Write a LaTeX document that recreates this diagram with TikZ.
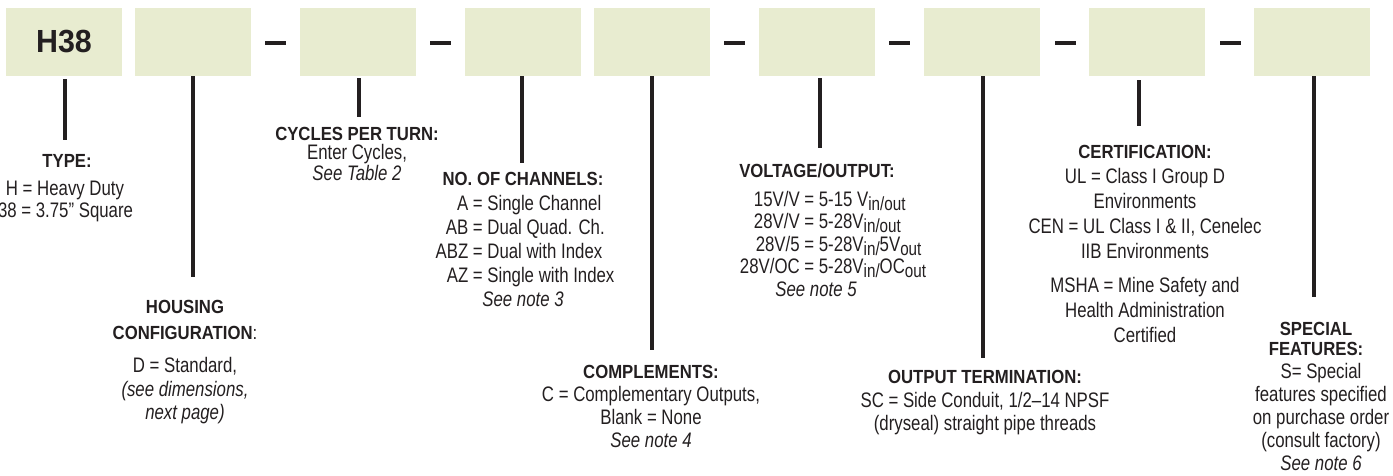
\documentclass[tikz,border=0pt]{standalone}
\usepackage{fontspec}
\setmainfont{Liberation Sans}[FakeStretch=0.8]
\newfontfamily\headfont{Liberation Sans}[FakeStretch=0.88]
\newfontfamily\codefont{Liberation Sans}[FakeStretch=0.95]
\definecolor{boxfill}{RGB}{232,236,208}
\definecolor{ink}{RGB}{35,31,32}
\newcommand{\lowsub}[1]{\raisebox{-2pt}{\fontsize{9.5}{9.5}\selectfont #1}}
\begin{document}
\begin{tikzpicture}[x=0.5pt,y=-0.5pt,
  codebox/.style={fill=boxfill,minimum width=58pt,minimum height=34pt,inner sep=0pt},
  dashbar/.style={fill=ink,minimum width=10.5pt,minimum height=1.8pt,inner sep=0pt},
  leader/.style={draw=ink,line width=1.6pt},
  head/.style={font=\headfont\bfseries\fontsize{9.5}{#1}\selectfont,text=ink,inner sep=0pt,anchor=north,align=center},
  head/.default=11pt,
  body/.style={font=\fontsize{10.5}{#1}\selectfont,text=ink,inner sep=0pt,anchor=north,align=center},
  body/.default=11.5pt,
  note/.style={font=\fontsize{10.5}{11.5}\selectfont\itshape,text=ink,inner sep=0pt,anchor=north}]
\useasboundingbox (0,0) rectangle (1393,476);
\node[codebox] (b1) at (64,42) {\codefont\bfseries\fontsize{16}{16}\selectfont\raisebox{-1.5pt}{\textcolor{ink}{H38}}};
\node[codebox] (b2) at (193,42) {};
\node[codebox] (b3) at (358,42) {};
\node[codebox] (b4) at (523,42) {};
\node[codebox] (b5) at (652,42) {};
\node[codebox] (b6) at (817,42) {};
\node[codebox] (b7) at (982,42) {};
\node[codebox] (b8) at (1147,42) {};
\node[codebox] (b9) at (1312,42) {};
\node[dashbar] (d1) at (275.5,43) {};
\node[dashbar] (d2) at (440.5,43) {};
\node[dashbar] (d3) at (734.5,43) {};
\node[dashbar] (d4) at (899.5,43) {};
\node[dashbar] (d5) at (1065,43) {};
\node[dashbar] (d6) at (1230,43) {};
\coordinate (e1) at (65,140);
\coordinate (e2) at (193,277);
\coordinate (e3) at (359,117);
\coordinate (e4) at (522,163);
\coordinate (e5) at (652,350);
\coordinate (e6) at (820,148);
\coordinate (e7) at (983,358);
\coordinate (e8) at (1139,126);
\coordinate (e9) at (1314,297);
\draw[leader,shorten <=1.5pt] (b1.south -| e1) -- (e1);
\draw[leader] (b2.south -| e2) -- (e2);
\draw[leader,shorten <=1pt] (b3.south -| e3) -- (e3);
\draw[leader] (b4.south -| e4) -- (e4);
\draw[leader] (b5.south -| e5) -- (e5);
\draw[leader,shorten <=1pt] (b6.south -| e6) -- (e6);
\draw[leader] (b7.south -| e7) -- (e7);
\draw[leader,shorten <=2pt] (b8.south -| e8) -- (e8);
\draw[leader] (b9.south -| e9) -- (e9);
\node[head] (typeh) at (67,154) {TYPE:};
\node[body=11pt] (typeb) at (65,181) {H = Heavy Duty\\\hspace*{-5.5pt}H38 = 3.75" Square};
\node[head=13pt] (housh) at (185,300) {HOUSING\\CONFIGURATION\textmd{:}};
\node[body=11.75pt] (housb) at (185,357) {D = Standard,\\\textit{(see dimensions,}\\\textit{next page)}};
\node[head] (cych) at (357,127) {CYCLES PER TURN:};
\node[body=10.5pt] (cycb) at (357,143.5) {Enter Cycles,\\\textit{See Table 2}};
\node[head] (chanh) at (523,172) {NO. OF CHANNELS:};
\node[body=12pt] (chanb) at (525,193) {\begin{tabular}{@{}r@{ = }l@{}}A & Single Channel\\AB & Dual Quad. Ch.\\ABZ & Dual with Index\\AZ & Single with Index\end{tabular}};
\node[note] (chann) at (523,291) {See note 3};
\node[head] (comph) at (651,365) {COMPLEMENTS:};
\node[body] (compb) at (651,386) {C = Complementary Outputs,\\Blank = None\\\textit{See note 4}};
\node[head] (volh) at (817,163) {VOLTAGE/OUTPUT:};
\node[body=11.25pt] (volb) at (833,190) {\begin{tabular}{@{}r@{ = }l@{}}15V/V & 5-15 V\lowsub{in/out}\\28V/V & 5-28V\lowsub{in/out}\\28V/5 & 5-28V\lowsub{in/}5V\lowsub{out}\\28V/OC & 5-28V\lowsub{in/}OC\lowsub{out}\end{tabular}};
\node[note] (voln) at (816,281) {See note 5};
\node[head] (outh) at (985,370) {OUTPUT TERMINATION:};
\node[body] (outb) at (985,392) {SC = Side Conduit, 1/2--14 NPSF\\(dryseal) straight pipe threads};
\node[head] (certh) at (1145,145) {CERTIFICATION:};
\node[body=12.5pt] (certb) at (1145,168) {UL = Class I Group D\\Environments\\CEN = UL Class I \& II, Cenelec\\IIB Environments\\[4.5pt]MSHA = Mine Safety and\\Health Administration\\Certified};
\node[head=10pt] (spech) at (1316,322) {SPECIAL\\FEATURES:};
\node[body] (specb) at (1321,363) {S= Special\\features specified\\on purchase order\\(consult factory)\\\textit{See note 6}};
\end{tikzpicture}
\end{document}
